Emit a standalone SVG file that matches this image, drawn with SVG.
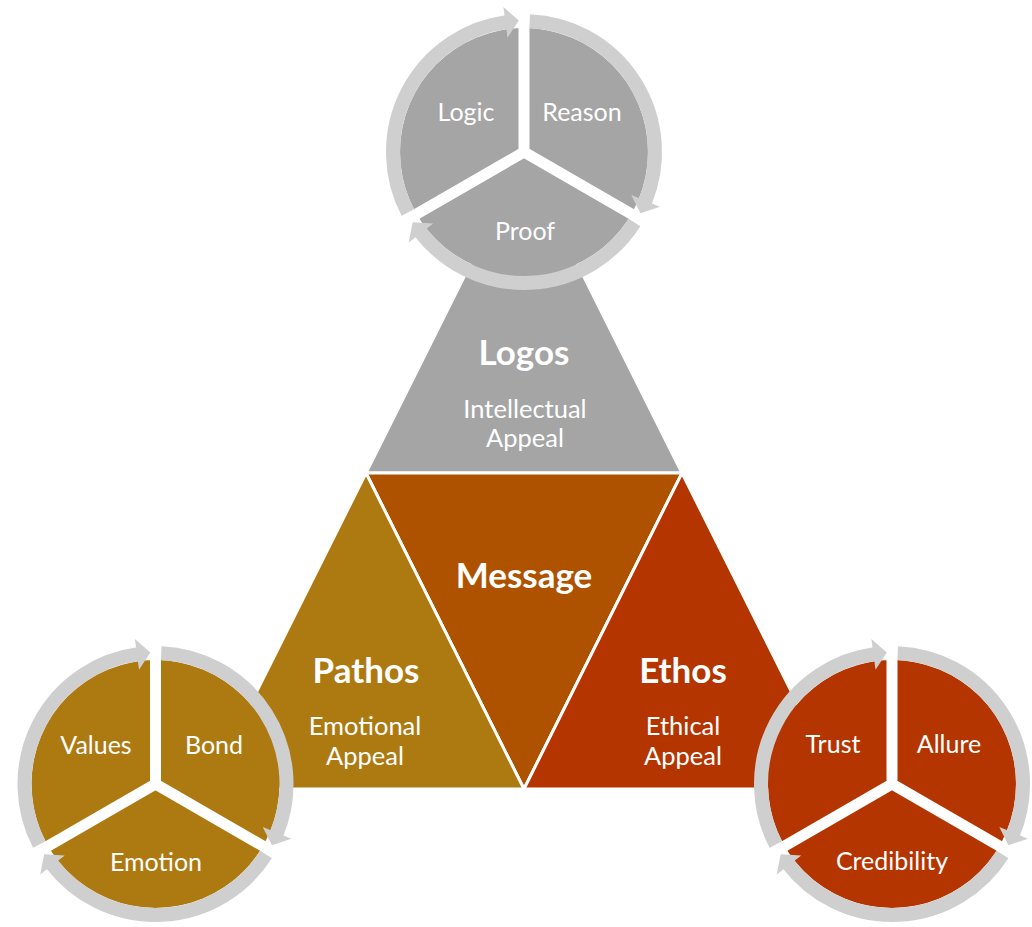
<svg xmlns="http://www.w3.org/2000/svg" width="1032" height="927" viewBox="0 0 1032 927">
<style>
.tri { stroke: #ffffff; stroke-width: 3; stroke-linejoin: miter; }
.t { font-family: Lato, "Open Sans", "Liberation Sans", sans-serif; fill: #ffffff; text-anchor: middle; }
.h { font-weight: bold; font-size: 35px; }
.s { font-size: 25.5px; }
.c { font-size: 25px; }
.gap { stroke: #ffffff; stroke-width: 11; fill: none; }
.ring { stroke: #cfcfcf; stroke-width: 14; fill: none; marker-end: url(#ah); }
</style>
<defs>
<marker id="ah" markerUnits="userSpaceOnUse" markerWidth="40" markerHeight="40" refX="0" refY="0" orient="auto" overflow="visible">
<path d="M-1,-15.5 L12.5,0 L-1,15.5 Z" fill="#cfcfcf"/>
</marker>
</defs>
<rect width="1032" height="927" fill="#ffffff"/>

<g id="node-logos">
<polygon class="tri" points="524,157 682,473 366,473" fill="#a5a5a5"/>
<text class="t h" x="524" y="365">Logos</text>
<text class="t s" x="525" y="418">Intellectual</text>
<text class="t s" x="525" y="447">Appeal</text>
</g>
<g id="node-message">
<polygon class="tri" points="366,473 682,473 524,789" fill="#af5200"/>
<text class="t h" x="524" y="588">Message</text>
</g>
<g id="node-pathos">
<polygon class="tri" points="366,473 524,789 208,789" fill="#ad7a12"/>
<text class="t h" x="366" y="683">Pathos</text>
<text class="t s" x="365" y="735">Emotional</text>
<text class="t s" x="365" y="765">Appeal</text>
</g>
<g id="node-ethos">
<polygon class="tri" points="682,473 840,789 524,789" fill="#b43500"/>
<text class="t h" x="683" y="683">Ethos</text>
<text class="t s" x="683" y="735">Ethical</text>
<text class="t s" x="683" y="765">Appeal</text>
</g>

<g id="cycle-logos">
<g transform="translate(524,152)">
<circle r="124" fill="#a5a5a5"/>
<path class="gap" d="M0,0 L0,-126 M0,0 L109.1,63 M0,0 L-109.1,63"/>
</g>
<text class="t c" x="466" y="121">Logic</text>
<text class="t c" x="582" y="121">Reason</text>
<text class="t c" x="525" y="240">Proof</text>
</g>
<g id="cycle-pathos">
<g transform="translate(155.5,784)">
<circle r="124" fill="#ad7a12"/>
<path class="gap" d="M0,0 L0,-126 M0,0 L109.1,63 M0,0 L-109.1,63"/>
</g>
<text class="t c" x="96" y="754">Values</text>
<text class="t c" x="214" y="754">Bond</text>
<text class="t c" x="156" y="871">Emotion</text>
</g>
<g id="cycle-ethos">
<g transform="translate(892,784)">
<circle r="124" fill="#b43500"/>
<path class="gap" d="M0,0 L0,-126 M0,0 L109.1,63 M0,0 L-109.1,63"/>
</g>
<text class="t c" x="833" y="753">Trust</text>
<text class="t c" x="949" y="753">Allure</text>
<text class="t c" x="892" y="870">Credibility</text>
</g>

<g id="connectors">
<g transform="translate(524,152)">
<path class="ring" d="M5.71,-130.88 A131,131 0 0 1 121.20,49.71"/>
<path class="ring" d="M110.48,70.39 A131,131 0 0 1 -103.65,80.11"/>
<path class="ring" d="M-116.20,60.49 A131,131 0 0 1 -17.55,-129.82"/>
</g>
<g transform="translate(155.5,784)">
<path class="ring" d="M5.71,-130.88 A131,131 0 0 1 121.20,49.71"/>
<path class="ring" d="M110.48,70.39 A131,131 0 0 1 -103.65,80.11"/>
<path class="ring" d="M-116.20,60.49 A131,131 0 0 1 -17.55,-129.82"/>
</g>
<g transform="translate(892,784)">
<path class="ring" d="M5.71,-130.88 A131,131 0 0 1 121.20,49.71"/>
<path class="ring" d="M110.48,70.39 A131,131 0 0 1 -103.65,80.11"/>
<path class="ring" d="M-116.20,60.49 A131,131 0 0 1 -17.55,-129.82"/>
</g>
</g>
</svg>
